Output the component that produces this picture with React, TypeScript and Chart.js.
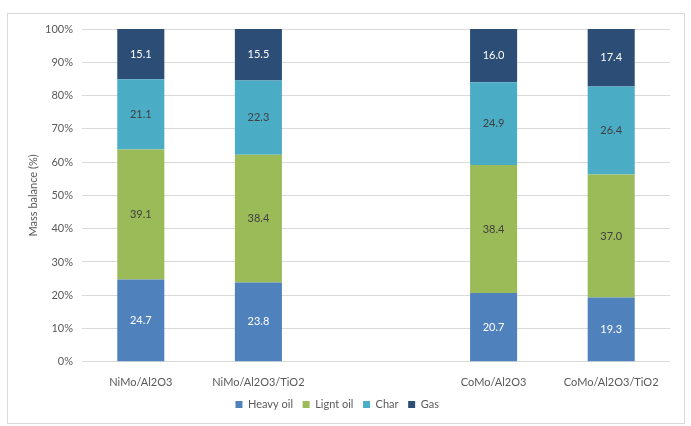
import React, { useEffect, useRef } from "react";
import { Chart, registerables } from "chart.js";
Chart.register(...registerables);

const categories = ["NiMo/Al2O3", "NiMo/Al2O3/TiO2", "", "CoMo/Al2O3", "CoMo/Al2O3/TiO2"];
const heavyOil = [24.7, 23.8, null, 20.7, 19.3];
const lightOil = [39.1, 38.4, null, 38.4, 37.0];
const charVals = [21.1, 22.3, null, 24.9, 26.4];
const gasVals = [15.1, 15.5, null, 16.0, 17.4];
const seriesNames = ["Heavy oil", "Lignt oil", "Char", "Gas"];
const yTicks = [0, 10, 20, 30, 40, 50, 60, 70, 80, 90, 100];

const FONT = "Lato, 'Open Sans', sans-serif";

const labelPlugin = {
  id: "barLabels",
  afterDatasetsDraw(chart: any) {
    const ctx = chart.ctx;
    ctx.save();
    ctx.font = `11px ${FONT}`;
    ctx.textAlign = "center";
    ctx.textBaseline = "middle";
    chart.data.datasets.forEach((ds: any, i: number) => {
      const meta = chart.getDatasetMeta(i);
      meta.data.forEach((bar: any, j: number) => {
        const v = ds.data[j];
        if (v == null) return;
        const y = (bar.y + bar.base) / 2;
        ctx.fillStyle = ds.labelColor;
        ctx.fillText(v.toFixed(1), bar.x, y);
      });
    });
    ctx.restore();
  },
};

export default function App() {
  const ref = useRef<HTMLCanvasElement>(null);
  useEffect(() => {
    const colors = ["#4F81BD", "#9BBB59", "#4BACC6", "#2C4D75"];
    const labelColors = ["#FFFFFF", "#404040", "#404040", "#FFFFFF"];
    const values = [heavyOil, lightOil, charVals, gasVals];
    const chart = new Chart(ref.current!, {
      type: "bar",
      data: {
        labels: categories,
        datasets: values.map((d, i) => ({
          label: seriesNames[i],
          data: d,
          backgroundColor: colors[i],
          borderWidth: 0,
          barPercentage: 0.4,
          categoryPercentage: 1,
          labelColor: labelColors[i],
        })) as any,
      },
      options: {
        animation: false,
        responsive: false,
        maintainAspectRatio: false,
        layout: { padding: { top: 29, left: 10, right: 21, bottom: 6 } },
        plugins: {
          tooltip: { enabled: false },
          legend: {
            position: "bottom",
            labels: {
              boxWidth: 7,
              boxHeight: 7,
              padding: 4,
              color: "#595959",
              font: { size: 11, family: FONT },
              generateLabels: (chart: any) =>
                chart.data.datasets.map((ds: any, i: number) => ({
                  text: ds.label + "  ",
                  fillStyle: ds.backgroundColor,
                  strokeStyle: ds.backgroundColor,
                  lineWidth: 0,
                  fontColor: "#595959",
                  hidden: false,
                  datasetIndex: i,
                })),
            },
          },
        },
        scales: {
          x: {
            stacked: true,
            grid: { display: false },
            border: { display: false },
            ticks: { color: "#595959", font: { size: 11, family: FONT }, padding: 6, maxRotation: 0, autoSkip: false },
          },
          y: {
            stacked: true,
            min: 0,
            max: 100,
            afterBuildTicks: (s: any) => { s.ticks = yTicks.map((v) => ({ value: v })); },
            grid: { color: "#D9D9D9", drawTicks: false },
            border: { display: false },
            ticks: { color: "#595959", font: { size: 11, family: FONT }, padding: 9, callback: (v: any) => v + "%" },
            title: { display: true, text: "Mass balance (%)", color: "#595959", font: { size: 11, family: FONT }, padding: { top: 17, bottom: 6 } },
            afterFit: (s: any) => { s.width = 72; },
          },
        },
      },
      plugins: [labelPlugin],
    });
    return () => chart.destroy();
  }, []);
  return (
    <div style={{ position: "absolute", left: 0, top: 0, width: 691, height: 426, background: "#fff" }}>
      <div style={{ position: "absolute", left: 7, top: 13, width: 676, height: 409, border: "1px solid #D9D9D9" }} />
      <canvas ref={ref} width={691} height={426} style={{ position: "absolute", left: 0, top: 0 }} />
    </div>
  );
}
